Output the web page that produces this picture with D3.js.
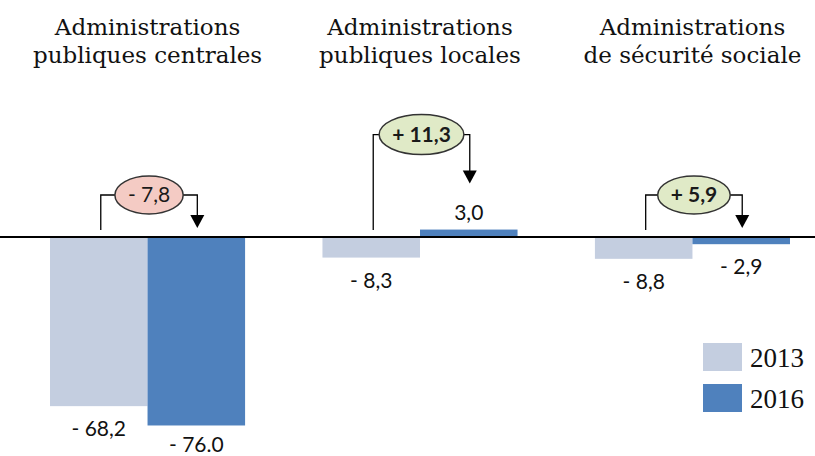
<!DOCTYPE html>
<html>
<head>
<meta charset="utf-8">
<script src="https://cdn.jsdelivr.net/npm/d3@7"></script>
<style>
  body { margin: 0; background: #fff; }
  svg { display: block; }
</style>
</head>
<body>
<svg id="chart" width="815" height="456"></svg>
<script>
// data
var categories = ["centrales", "locales", "securite"];
var titles = [
    ["Administrations", "publiques centrales"],
    ["Administrations", "publiques locales"],
    ["Administrations", "de sécurité sociale"]
];
var years = ["2013", "2016"];
var values2013 = [-68.2, -8.3, -8.8];
var values2016 = [-76.0, 3.0, -2.9];
var labels2013 = ["- 68,2", "- 8,3", "- 8,8"];
var labels2016 = ["- 76.0", "3,0", "- 2,9"];
var changeLabels = ["- 7,8", "+ 11,3", "+ 5,9"];

var colors = { "2013": "#c4cee0", "2016": "#4f81bd" };

var svg = d3.select("#chart");

var x0 = d3.scaleBand()
    .domain(categories)
    .range([50, 790])
    .paddingInner(0.284)
    .paddingOuter(0);

var x1 = d3.scaleBand()
    .domain(years)
    .range([0, x0.bandwidth()]);

var y = d3.scaleLinear()
    .domain([-80, 10])
    .range([237 + 80 * 2.48, 237 - 10 * 2.48]);

var rows = categories.map(function (c, i) {
    return {
        cat: c,
        title: titles[i],
        bars: [
            { year: "2013", value: values2013[i], label: labels2013[i] },
            { year: "2016", value: values2016[i], label: labels2016[i] }
        ],
        change: values2016[i] - values2013[i],
        changeLabel: changeLabels[i]
    };
});

// titles
svg.append("g").selectAll("text")
    .data(rows)
    .join("text")
    .attr("x", function (d) { return x0(d.cat) + x0.bandwidth() / 2; })
    .attr("y", 35)
    .attr("text-anchor", "middle")
    .style("font-family", "'DejaVu Serif', serif")
    .style("font-size", "23px")
    .attr("fill", "#111")
    .each(function (d) {
        var t = d3.select(this);
        d.title.forEach(function (line, k) {
            t.append("tspan")
                .attr("x", x0(d.cat) + x0.bandwidth() / 2)
                .attr("dy", k == 0 ? 0 : 28)
                .text(line);
        });
    });

// bars
var groups = svg.append("g").selectAll("g")
    .data(rows)
    .join("g")
    .attr("transform", function (d) { return "translate(" + x0(d.cat) + ",0)"; });

groups.selectAll("rect")
    .data(function (d) { return d.bars; })
    .join("rect")
    .attr("x", function (d) { return x1(d.year); })
    .attr("width", x1.bandwidth())
    .attr("y", function (d) { return y(Math.max(0, d.value)); })
    .attr("height", function (d) { return Math.abs(y(d.value) - y(0)); })
    .attr("fill", function (d) { return colors[d.year]; });

groups.selectAll("text.val")
    .data(function (d) { return d.bars; })
    .join("text")
    .attr("class", "val")
    .attr("x", function (d) { return x1(d.year) + x1.bandwidth() / 2; })
    .attr("y", function (d) { return d.value > 0 ? y(d.value) - 10 : Math.min(y(d.value) + 30, 452); })
    .attr("text-anchor", "middle")
    .style("font-family", "Lato, sans-serif")
    .style("font-size", "21px")
    .attr("fill", "#111")
    .text(function (d) { return d.label; });

// zero line
svg.append("line")
    .attr("x1", 0).attr("x2", 815)
    .attr("y1", y(0)).attr("y2", y(0))
    .attr("stroke", "#000")
    .attr("stroke-width", 2);

// change brackets
var brackets = svg.append("g").selectAll("g")
    .data(rows)
    .join("g")
    .each(function (d) {
        var g = d3.select(this);
        var leftX = x0(d.cat) + x1("2013") + x1.bandwidth() / 2 + 2;
        var rightX = x0(d.cat) + x1("2016") + x1.bandwidth() / 2 + 1;
        var v = d.bars[1].value;
        var tipY = v > 0 ? y(v) - 46 : y(0) - 9;
        var cy = tipY - (v > 0 ? 49 : 33);
        var cx = (leftX + rightX) / 2;

        g.append("path")
            .attr("d", "M" + leftX + "," + (y(0) - 7) + "V" + cy + "H" + rightX + "V" + (tipY - 12))
            .attr("fill", "none")
            .attr("stroke", "#000")
            .attr("stroke-width", 1.3);
        g.append("path")
            .attr("d", "M" + (rightX - 7) + "," + (tipY - 13) + "L" + (rightX + 7) + "," + (tipY - 13) + "L" + rightX + "," + tipY + "Z")
            .attr("fill", "#000");

        var ell = g.append("ellipse")
            .attr("cx", cx)
            .attr("cy", cy)
            .attr("fill", d.change < 0 ? "#f4cbc4" : "#e0eac7")
            .attr("stroke", "#333")
            .attr("stroke-width", 1.5);
        var txt = g.append("text")
            .attr("x", cx)
            .attr("y", cy + 7)
            .attr("text-anchor", "middle")
            .style("font-family", "Lato, sans-serif")
            .style("font-size", "21px")
            .style("font-weight", d.change < 0 ? "normal" : "bold")
            .attr("fill", "#1a1a1a")
            .text(d.changeLabel);
        var w = txt.node().getComputedTextLength();
        ell.attr("rx", w / 2 + 13).attr("ry", d.change > 0 && v > 0 ? 20 : 19);
    });

// legend
var legend = svg.append("g").selectAll("g")
    .data(years)
    .join("g")
    .attr("transform", function (d, i) { return "translate(703," + (343 + i * 41) + ")"; });

legend.append("rect")
    .attr("width", 39)
    .attr("height", 28)
    .attr("fill", function (d) { return colors[d]; });

legend.append("text")
    .attr("x", 47)
    .attr("y", 24)
    .style("font-family", "'Liberation Serif', serif")
    .style("font-size", "27px")
    .attr("fill", "#111")
    .text(function (d) { return d; });
</script>
</body>
</html>
